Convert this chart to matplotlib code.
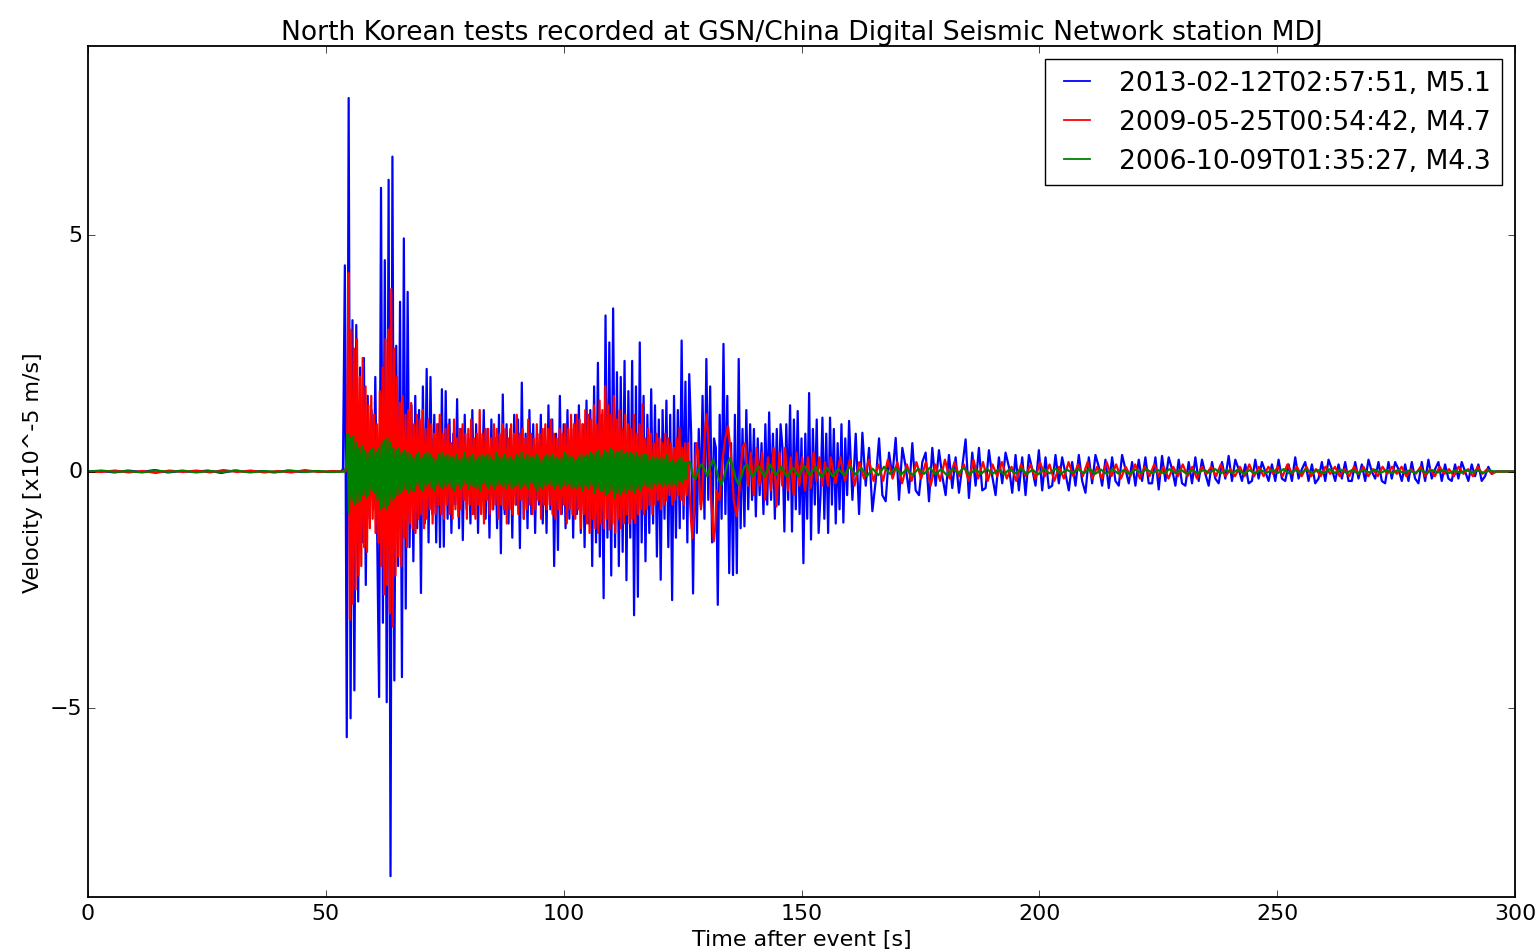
import numpy as np
import matplotlib
matplotlib.use('Agg')
import matplotlib.pyplot as plt

# old-school matplotlib look, scaled up for a 1535x953 canvas
plt.style.use('classic')
plt.rcParams.update({'font.size': 15.9,
                     'lines.linewidth': 1.6,
                     'axes.linewidth': 1.3,
                     'xtick.major.size': 5.2,
                     'ytick.major.size': 5.2})

labels = ['2013-02-12T02:57:51, M5.1',
          '2009-05-25T00:54:42, M4.7',
          '2006-10-09T01:35:27, M4.3']
colors = ['b', 'r', 'g']
trace_end = 300.0

# velocities in 1e-5 m/s, read off the plot, sampled at a fixed spacing per segment
# 2013 event
blue_pre = [0.0, 0.01, -0.02, 0.02, -0.01, 0.03, -0.02, 0.01, -0.01, 0.02,
            -0.03, 0.02, -0.01, 0.01, -0.02, 0.02, -0.01, 0.01, -0.01, 0.0]
blue_main = [0.05, 4.36, -5.62, 7.9, -5.22, 3.2, -4.63, 3.1, -2.75, 2.2,
             -1.5, 2.4, -2.4, 1.6, -1.0, 1.3, -0.8, 2.0, -1.3, -4.77,
             6.0, -3.2, 4.47, -4.88, 6.17, -8.56, 6.66, -4.42, 2.66, -2.0,
             3.59, -4.35, 4.93, -2.9, 3.8, -1.6, 1.4, -1.9, 1.6, -1.2,
             1.3, -2.57, 1.8, -1.1, 2.17, -1.5, 2.0, -0.9, 1.2, -1.5,
             1.0, -1.6, 1.74, -1.59, 1.7, -1.0, 1.1, -1.3, 0.8, -0.7,
             1.53, -1.2, 0.9, -1.45, 1.2, -0.8, 0.7, -1.1, 1.3, -0.9,
             1.0, -1.3, 0.8, -0.6, 1.3, -1.0, 0.9, -1.4, 1.1, -0.8,
             0.7, -1.2, 1.2, -1.73, 1.63, -0.9, 1.0, -1.1, 0.9, -1.4,
             1.2, -0.7, 1.1, -1.62, 1.88, -1.0, 0.8, -1.2, 1.3, -0.9,
             1.0, -1.3, 0.8, -0.7, 1.2, -1.1, 0.9, -1.3, 1.4, -0.8,
             1.1, -2.0, 0.8, -1.66, 1.6, -0.9, 1.0, -1.2, 1.3, -1.0,
             0.9, -1.4, 1.2, -0.9, 1.4, -1.3, 1.0, -1.6, 1.5, -1.1,
             1.3, -2.0, 1.8, -1.5, 2.3, -1.8, 1.2, -2.68, 3.3, -1.4,
             2.73, -2.2, 3.45, -1.6, 2.1, -2.0, 2.0, -1.7, 2.34, -2.3,
             1.7, -1.4, 2.34, -3.04, 1.8, -2.65, 2.73, -1.5, 1.6, -1.9,
             1.2, -1.3, 1.74, -1.1, 1.4, -1.8, 1.1, -2.29, 1.3, -1.0,
             1.5, -1.6, 1.2, -2.72, 1.6, -1.4, 1.3, -1.2, 2.77, -1.0,
             1.9, -1.5, 2.06, 0.8, -2.58, 0.6, -1.3, 0.9, -0.7, 1.6,
             -1.0, 2.38, -0.6, 1.8, -1.5, 0.7, 0.5, -2.82, 1.2, -1.0,
             2.7, -0.9, 1.6, -2.15, 0.6, -2.19, 1.2, -2.15, 2.38, -1.2,
             0.9, -1.16, 1.3, -0.8, 1.0, -0.6, 0.9, -0.95, 0.7, -0.5,
             0.6, -0.9, 1.0, -0.7, 1.25, -0.6, 0.8, -1.0, 0.9, -0.7,
             1.0, 0.5, -1.27, 1.0, -0.6, 1.4, -1.27, 1.1, -0.8, 1.28,
             -0.9, 0.7, -1.94, 0.8, -1.0, 1.66, -1.44, 0.9, -0.7, 1.1,
             -1.3, -0.5, 1.14, -1.0, 0.8, -1.3, 1.14, -0.7, 0.9, -1.1,
             0.6, -0.8, 1.0, -1.08, 0.7, -0.5, 1.07]
blue_coda = [-0.6, 0.8, -0.9, 0.82, -0.3, 0.5, -0.84, -0.2, 0.7, -0.5,
             -0.63, 0.4, -0.1, 0.71, -0.6, 0.5, 0.1, -0.45, 0.6, -0.4,
             -0.5, 0.2, 0.4, -0.63, 0.5, -0.3, 0.45, -0.1, -0.5, 0.35,
             -0.35, 0.3, -0.45, 0.1, 0.68, -0.56, 0.4, -0.3, 0.5, -0.4,
             -0.35, 0.45, -0.1, -0.5, 0.3, -0.25, 0.4, 0.1, -0.45, 0.35,
             -0.4, 0.3, -0.5, 0.35, 0.05, -0.3, 0.45, -0.4, 0.3, -0.35,
             -0.3, 0.35, -0.25, 0.3, -0.05, -0.4, 0.2, -0.3, 0.35, -0.2,
             -0.45, 0.3, -0.25, 0.35, 0.1, -0.3, 0.25, -0.35, 0.3, -0.2,
             -0.3, 0.35, 0.05, -0.25, 0.2, -0.3, 0.25, -0.2, 0.3, -0.25,
             -0.25, 0.3, -0.38, 0.33, -0.2, 0.3, 0.05, -0.3, 0.25, -0.25,
             -0.3, 0.2, -0.25, 0.3, -0.2, 0.25, -0.05, -0.3, 0.2, -0.15,
             -0.25, 0.2, -0.15, 0.33, -0.2, 0.25, 0.05, -0.2, 0.15, -0.25,
             -0.2, 0.25, -0.15, 0.2, 0.0, -0.2, 0.15, -0.2, 0.25, -0.15,
             -0.2, 0.15, -0.2, 0.3, -0.15, 0.05, 0.2, -0.2, 0.15, -0.25,
             -0.15, 0.2, -0.2, 0.25, 0.05, -0.2, 0.15, -0.15, 0.2, -0.2,
             -0.2, 0.2, -0.15, 0.15, -0.2, 0.25, 0.0, -0.15, 0.2, -0.2,
             -0.25, 0.2, -0.15, 0.2, 0.05, -0.2, 0.15, -0.2, 0.2, -0.15,
             -0.25, 0.2, -0.2, 0.25, -0.15, 0.05, 0.2, -0.2, 0.15, -0.15,
             -0.2, 0.15, -0.15, 0.2, 0.0, -0.2, 0.15, -0.1, 0.15, -0.2,
             -0.1, 0.1, -0.05, 0.0]

# 2009 event
red_pre = [0.0, -0.01, 0.02, -0.02, 0.01, -0.03, 0.02, -0.01, 0.02, -0.02,
           0.03, -0.01, 0.02, -0.02, 0.01, -0.02, 0.03, -0.01, 0.01, 0.0]
red_main = [0.3, 4.2, -3.14, 3.0, -2.8, 2.6, -2.5, 2.8, -2.2, 2.0,
            -2.0, 2.4, -1.6, 1.8, -1.7, 1.4, -1.2, 1.6, -1.0, 1.2,
            -1.3, 1.0, -1.5, 1.7, -2.0, 2.2, -2.6, 2.8, -2.4, 3.0,
            -3.0, 3.86, -3.28, 2.6, -2.2, 2.0, -1.8, 1.45, -2.0, 1.6,
            -1.4, 1.2, -1.6, 1.3, -1.1, 1.45, -1.2, 1.0, -1.3, 1.2,
            -1.0, 1.1, -0.9, 1.3, -1.2, 0.9, -1.0, 1.1, -0.8, 1.0,
            -1.1, 0.8, -0.9, 1.0, -0.7, 1.2, -0.9, 0.8, -1.0, 0.9,
            -0.7, 1.0, -0.9, 0.6, -1.0, 1.1, -0.8, 0.7, -0.95, 0.9,
            -0.8, 1.0, -0.6, 0.8, -1.0, 0.9, -0.7, 1.1, -0.9, 0.7,
            -1.0, 0.8, -0.7, 1.3, -0.9, 0.8, -1.1, 0.9, -0.6, 0.9,
            -0.9, 0.7, -0.8, 1.0, -0.7, 0.9, -1.0, 0.8, -0.7, 1.0,
            -0.8, 0.9, -1.1, 0.7, -0.8, 1.0, -0.9, 0.8, -0.7, 1.2,
            -0.9, 0.8, -0.6, 0.9, -1.0, 0.7, -0.8, 1.1, -0.7, 0.8,
            -0.9, 0.7, -0.8, 1.0, -0.6, 0.8, -1.0, 0.9, -0.7, 1.0,
            -0.8, 0.9, -0.7, 1.1, -0.9, 0.8, -1.0, 0.7, -0.8, 0.9,
            -0.9, 0.8, -0.7, 1.0, -1.1, 0.9, -0.8, 1.2, -0.9, 1.0,
            -1.0, 1.2, -0.8, 1.1, -1.2, 1.0, -0.9, 1.3, -1.1, 1.2,
            -1.3, 1.1, -1.0, 1.4, -1.2, 1.0, -1.3, 1.5, -1.1, 1.3,
            -1.2, 1.8, -1.0, 1.4, -1.23, 1.2, -1.1, 1.6, -1.3, 1.1,
            -1.0, 1.3, -1.2, 0.9, -1.1, 1.2, -0.9, 1.0, -1.1, 0.9,
            -1.0, 1.2, -1.09, 0.8, -0.9, 1.0, -0.8, 1.42, -0.9, 0.7,
            -0.8, 0.9, -0.7, 0.8, -0.9, 0.6, -0.7, 0.8, -0.6, 0.7,
            -0.8, 0.6, -0.7, 0.8, -0.6, 0.7, -0.5, 0.6, -0.7, 0.5,
            -0.6, 0.7, -0.5, 0.93, -0.6, 0.5, -0.7, 0.6, -0.5, 0.6,
            -0.4, -1.0, -1.41, -0.9, 0.2, 0.6, 0.4, -0.3, -0.8, -0.5,
            0.3, 0.9, 1.21, 0.8, 0.2, -0.5, -1.0, -1.48, -1.2, -0.4]
red_late = [-0.6, 0.2, 0.7, 0.96, 0.4, -0.6, -0.95, -0.4, 0.5, 0.6,
            -0.3, 0.4, -0.5, 0.5, -0.3, 0.4, -0.6, 0.3, -0.4, 0.5,
            -0.74, 0.4, -0.3, 0.5, -0.4, 0.3, -0.5, 0.4, -0.3, 0.3,
            -0.4, 0.3, -0.35, 0.4, -0.2, 0.3, -0.3, 0.2, -0.3, 0.3]
red_coda = [-0.25, 0.3, -0.2, 0.25, -0.3, 0.2, -0.15, 0.25, -0.2, 0.15,
            -0.2, 0.25, -0.15, 0.2, -0.25, 0.15, -0.2, 0.2, -0.15, 0.2,
            -0.3, 0.15, -0.2, 0.25, -0.15, 0.2, -0.1, 0.15, -0.2, 0.25,
            -0.15, 0.2, -0.2, 0.15, -0.1, 0.2, -0.15, 0.1, -0.2, 0.15,
            -0.1, 0.15, -0.15, 0.2, -0.1, 0.15, -0.2, 0.1, -0.15, 0.2,
            -0.1, 0.15, -0.1, 0.2, -0.15, 0.1, -0.15, 0.2, -0.1, 0.15,
            -0.15, 0.1, -0.1, 0.15, -0.15, 0.1, -0.1, 0.15, -0.1, 0.1,
            -0.15, 0.1, -0.1, 0.15, -0.1, 0.1, -0.15, 0.1, -0.05, 0.1,
            -0.1, 0.15, -0.1, 0.05, -0.1, 0.1, -0.1, 0.15, -0.1, 0.1,
            -0.1, 0.1, -0.05, 0.1, -0.1, 0.15, -0.05, 0.1, -0.1, 0.1,
            -0.1, 0.05, -0.1, 0.1, -0.05, 0.1, -0.1, 0.05, -0.1, 0.1,
            -0.05, 0.1, -0.1, 0.05, -0.1, 0.1, -0.05, 0.1, -0.05, 0.1,
            -0.1, 0.05, -0.05, 0.1, -0.1, 0.05, -0.1, 0.1, -0.05, 0.05,
            -0.1, 0.1, -0.05, 0.05, -0.1, 0.1, -0.05, 0.05, -0.05, 0.0]

# 2006 event
green_pre = [0.0, 0.02, -0.01, 0.01, -0.02, 0.02, -0.01, 0.02, -0.02, 0.01,
             -0.01, 0.02, -0.02, 0.01, -0.01, 0.02, -0.01, 0.01, -0.01, 0.0]
green_main = [0.1, 0.79, -0.88, 0.7, -0.6, 0.75, -0.7, 0.6, -0.65, 0.5,
              -0.6, 0.55, -0.5, 0.45, -0.55, 0.4, -0.5, 0.45, -0.4, 0.5,
              -0.45, 0.4, -0.6, 0.5, -0.8, 0.6, -0.75, 0.65, -0.8, 0.7,
              -0.7, 0.6, -0.6, 0.5, -0.55, 0.45, -0.5, 0.5, -0.45, 0.4,
              -0.4, 0.45, -0.35, 0.4, -0.45, 0.35, -0.4, 0.3, -0.4, 0.35,
              -0.3, 0.4, -0.35, 0.3, -0.4, 0.35, -0.3, 0.4, -0.25, 0.35,
              -0.35, 0.3, -0.4, 0.25, -0.3, 0.35, -0.3, 0.4, -0.35, 0.3,
              -0.3, 0.35, -0.25, 0.3, -0.35, 0.3, -0.4, 0.35, -0.3, 0.25,
              -0.35, 0.3, -0.3, 0.4, -0.25, 0.3, -0.35, 0.3, -0.3, 0.35,
              -0.3, 0.25, -0.35, 0.3, -0.4, 0.35, -0.25, 0.3, -0.3, 0.35,
              -0.35, 0.3, -0.3, 0.25, -0.35, 0.4, -0.3, 0.3, -0.25, 0.3,
              -0.3, 0.35, -0.35, 0.3, -0.25, 0.3, -0.35, 0.25, -0.3, 0.35,
              -0.3, 0.3, -0.35, 0.4, -0.3, 0.25, -0.3, 0.35, -0.35, 0.3,
              -0.25, 0.3, -0.3, 0.35, -0.4, 0.3, -0.3, 0.25, -0.35, 0.3,
              -0.3, 0.35, -0.25, 0.3, -0.3, 0.35, -0.35, 0.3, -0.3, 0.25,
              -0.35, 0.3, -0.3, 0.4, -0.3, 0.35, -0.25, 0.3, -0.35, 0.3,
              -0.3, 0.25, -0.35, 0.3, -0.3, 0.35, -0.4, 0.3, -0.3, 0.35,
              -0.35, 0.4, -0.3, 0.35, -0.45, 0.4, -0.35, 0.45, -0.4, 0.35,
              -0.4, 0.45, -0.5, 0.4, -0.45, 0.5, -0.4, 0.45, -0.55, 0.4,
              -0.45, 0.4, -0.5, 0.45, -0.4, 0.35, -0.45, 0.4, -0.35, 0.4,
              -0.4, 0.35, -0.45, 0.4, -0.35, 0.3, -0.4, 0.35, -0.3, 0.35,
              -0.3, 0.35, -0.3, 0.25, -0.35, 0.3, -0.25, 0.3, -0.3, 0.25,
              -0.25, 0.3, -0.3, 0.25, -0.3, 0.35, -0.25, 0.2, -0.3, 0.25,
              -0.25, 0.2, -0.3, 0.25, -0.2, 0.3, -0.25, 0.2, -0.15, 0.2]
green_late = [0.2, -0.1, -0.15, 0.05, 0.15, 0.05, -0.1, 0.1, 0.25, 0.1,
              -0.15, -0.28, -0.1, 0.15, 0.28, 0.1, -0.15, -0.27, -0.1, 0.1,
              0.15, 0.0, -0.1]
green_coda = [0.12, -0.1, 0.15, -0.08, 0.1, -0.12, 0.08, -0.1, 0.12, -0.08,
              0.1, -0.12, 0.08, -0.1, 0.06, -0.08, 0.1, -0.06, 0.08, -0.1,
              0.06, -0.08, 0.1, -0.05, 0.08, -0.06, 0.05, -0.08, 0.06, -0.05,
              0.08, -0.06, 0.05, -0.08, 0.06, -0.04, 0.08, -0.06, 0.05, -0.05,
              0.06, -0.05, 0.04, -0.06, 0.05, -0.04, 0.06, -0.05, 0.04, -0.06,
              0.05, -0.04, 0.06, -0.05, 0.04, -0.03, 0.05, -0.04, 0.06, -0.05,
              0.04, -0.05, 0.05, -0.04, 0.03, -0.05, 0.04, -0.03, 0.05, -0.04,
              0.03, -0.04, 0.05, -0.03, 0.04, -0.05, 0.03, -0.04, 0.04, -0.03,
              0.05, -0.04, 0.03, -0.03, 0.04, -0.05, 0.03, -0.04, 0.03, -0.03,
              0.04, -0.03, 0.05, -0.04, 0.03, -0.03, 0.04, -0.03, 0.03, -0.04,
              0.05, -0.03, 0.04, -0.03, 0.03, -0.04, 0.03, -0.02, 0.04, -0.03,
              0.03, -0.04, 0.03, -0.03, 0.02, -0.03, 0.04, -0.03, 0.03, -0.02,
              0.03, -0.03, 0.02, -0.03, 0.03, -0.02, 0.02, -0.03, 0.02, 0.0]

# (sample spacing in s, values); first block starts at t=0, each next block
# picks up one of its own spacings after the previous block's last sample
blue_segments = [(2.8, blue_pre), (0.4, blue_main), (0.7, blue_coda)]
red_segments = [(2.85, red_pre), (0.3, red_main), (0.6, red_late), (1.0, red_coda)]
green_segments = [(2.84, green_pre), (0.3, green_main), (0.6, green_late), (1.2, green_coda)]


def build_trace(segments):
    times, vals = [], []
    last = None
    for dt, seg in segments:
        start = 0.0 if last is None else last + dt
        tt = start + dt * np.arange(len(seg))
        times.append(tt)
        vals.append(np.asarray(seg, dtype=float))
        last = tt[-1]
    # trace runs flat to the end of the window
    times.append([trace_end])
    vals.append([0.0])
    return np.concatenate(times), np.concatenate(vals)


fig = plt.figure(figsize=(15.35, 9.53), dpi=100, facecolor='white')
ax = fig.add_axes([88 / 1535, 55 / 953, 1427 / 1535, 851 / 953])

for segs, c, lab in zip([blue_segments, red_segments, green_segments], colors, labels):
    t, v = build_trace(segs)
    ax.plot(t, v, color=c, label=lab)

ax.set_xlim(0, 300)
ax.set_ylim(-9, 9)
ax.set_xticks(np.arange(0, 301, 50))
ax.set_yticks([-5, 0, 5])
ax.set_xlabel('Time after event [s]')
ax.set_ylabel('Velocity [x10^-5 m/s]')
ax.set_title('North Korean tests recorded at GSN/China Digital Seismic Network station MDJ')
leg = ax.legend(loc='upper right', handlelength=1.6)
for line in leg.get_lines():
    line.set_linewidth(1.3)

fig.savefig('out.png', dpi=100, facecolor='white')
